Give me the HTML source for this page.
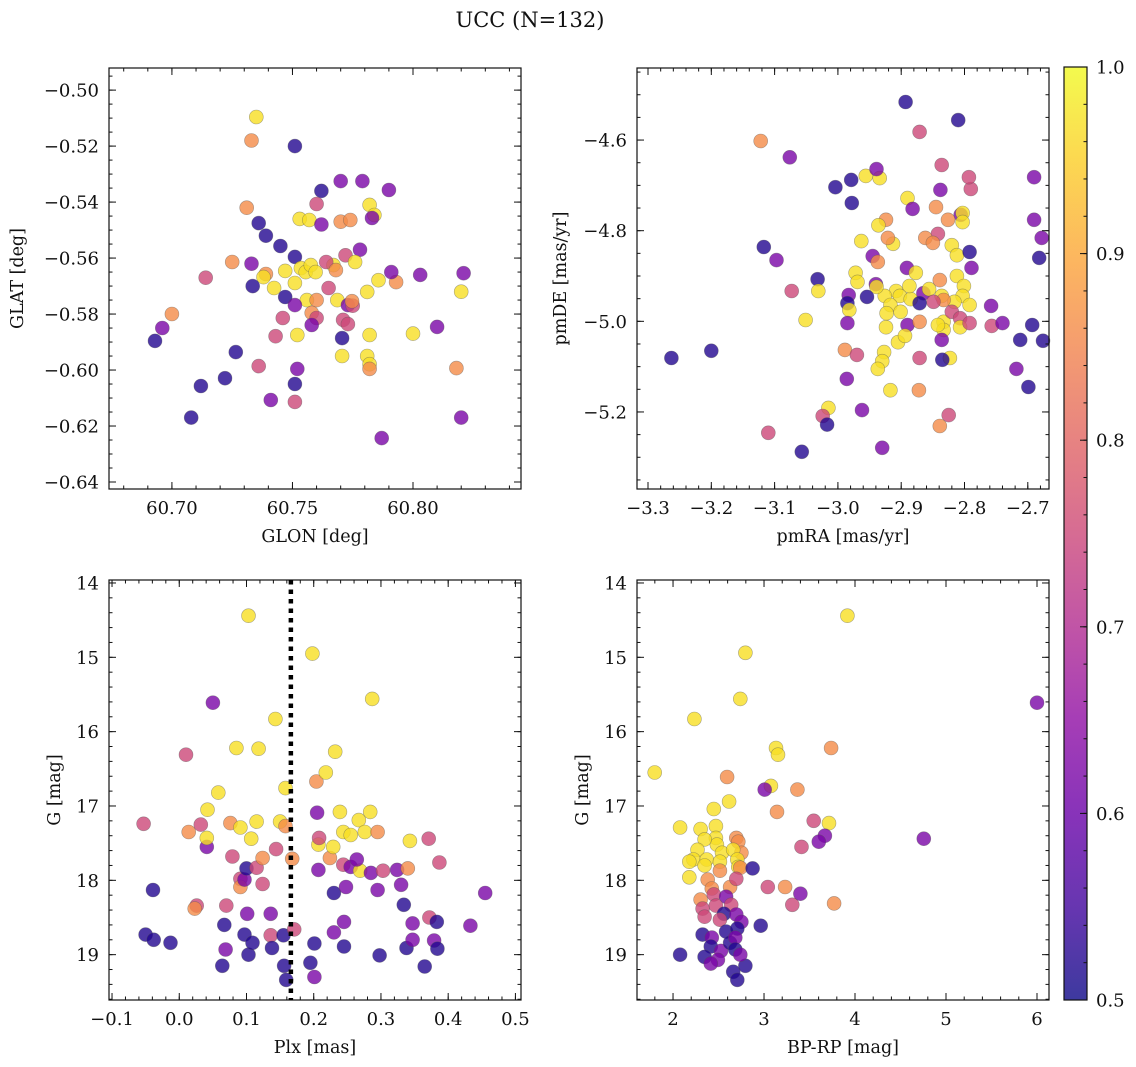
<!DOCTYPE html>
<html><head><meta charset="utf-8">
<style>
html,body{margin:0;padding:0;background:#fff;}
svg{display:block;font-family:"DejaVu Serif","Liberation Serif",serif;}
</style></head>
<body>
<svg id="fig" width="1136" height="1067" viewBox="0 0 1136 1067" xmlns="http://www.w3.org/2000/svg">
<text x="530" y="27" text-anchor="middle" font-size="21" fill="#111">UCC (N=132)</text>
<defs>
<linearGradient id="cbgrad" x1="0" y1="1" x2="0" y2="0">
<stop offset="0" stop-color="#0d0887"/><stop offset="0.1" stop-color="#41049d"/><stop offset="0.2" stop-color="#6a00a8"/><stop offset="0.3" stop-color="#8f0da4"/><stop offset="0.4" stop-color="#b12a90"/><stop offset="0.5" stop-color="#cc4778"/><stop offset="0.6" stop-color="#e16462"/><stop offset="0.7" stop-color="#f2844b"/><stop offset="0.8" stop-color="#fca636"/><stop offset="0.9" stop-color="#fcce25"/><stop offset="1" stop-color="#f0f921"/>
</linearGradient>
</defs>
</svg>
<script>
// ---- Panel 1: GLON / GLAT ----
const glon=[60.735,60.733,60.751,60.762,60.770,60.779,60.790,60.760,60.782,60.731,60.736,60.753,60.757,60.762,60.770,60.774,60.784,60.783,60.739,60.745,60.751,60.725,60.733,60.747,60.7535,60.7555,60.7576,60.7596,60.767,60.764,60.768,60.772,60.778,60.776,60.739,60.738,60.7335,60.7424,60.747,60.751,60.756,60.760,60.765,60.7686,60.773,60.781,60.7857,60.793,60.791,60.803,60.821,60.820,60.714,60.700,60.696,60.693,60.751,60.746,60.758,60.760,60.758,60.771,60.775,60.773,60.7747,60.743,60.752,60.7706,60.782,60.800,60.810,60.7265,60.736,60.7706,60.781,60.782,60.782,60.712,60.722,60.741,60.751,60.751,60.752,60.708,60.818,60.820,60.787];
const glat=[-0.5096,-0.518,-0.520,-0.536,-0.5325,-0.5325,-0.5357,-0.5407,-0.541,-0.542,-0.5475,-0.546,-0.5464,-0.548,-0.547,-0.5464,-0.5446,-0.5457,-0.552,-0.5557,-0.5596,-0.5614,-0.562,-0.5646,-0.5636,-0.565,-0.5625,-0.565,-0.5625,-0.5614,-0.5643,-0.559,-0.557,-0.5614,-0.5657,-0.5668,-0.570,-0.5707,-0.5739,-0.5689,-0.575,-0.575,-0.5707,-0.575,-0.5768,-0.5721,-0.5679,-0.5686,-0.565,-0.566,-0.5654,-0.572,-0.567,-0.580,-0.585,-0.5896,-0.5768,-0.5814,-0.5796,-0.5814,-0.5839,-0.5821,-0.577,-0.5836,-0.5754,-0.5879,-0.5875,-0.5886,-0.5875,-0.587,-0.5846,-0.5936,-0.5986,-0.595,-0.595,-0.5979,-0.5996,-0.6057,-0.6029,-0.6107,-0.6114,-0.605,-0.5996,-0.617,-0.5993,-0.617,-0.6243];
const prob1=[0.97,0.86,0.52,0.52,0.62,0.62,0.62,0.75,0.97,0.86,0.52,0.97,0.97,0.62,0.86,0.86,0.97,0.62,0.52,0.52,0.52,0.86,0.62,0.97,0.97,0.97,0.97,0.97,0.97,0.75,0.86,0.75,0.62,0.97,0.86,0.97,0.52,0.97,0.52,0.97,0.97,0.86,0.75,0.97,0.62,0.97,0.97,0.86,0.62,0.62,0.62,0.97,0.75,0.86,0.62,0.52,0.62,0.75,0.86,0.75,0.62,0.75,0.75,0.75,0.86,0.75,0.97,0.52,0.97,0.97,0.62,0.52,0.75,0.97,0.97,0.97,0.86,0.52,0.52,0.62,0.75,0.52,0.62,0.52,0.86,0.62,0.62];

// ---- Panel 2: pmRA / pmDE ----
const pmra=[-2.893,-2.871,-2.810,-3.122,-3.076,-3.004,-2.979,-2.934,-2.956,-2.939,-2.836,-2.978,-2.890,-2.838,-2.790,-2.793,-2.690,-2.690,-2.806,-2.845,-2.882,-2.826,-2.803,-2.842,-2.803,-2.862,-2.850,-2.820,-2.812,-2.924,-2.936,-2.913,-2.963,-2.921,-2.945,-2.937,-2.891,-2.877,-2.812,-2.801,-2.836,-2.803,-2.816,-2.792,-2.833,-2.758,-2.678,-2.682,-2.792,-2.789,-3.097,-3.117,-3.032,-3.073,-3.031,-2.972,-2.969,-2.940,-2.908,-2.902,-2.885,-2.887,-2.865,-2.856,-2.849,-2.926,-2.939,-2.954,-2.983,-2.985,-2.982,-2.917,-2.901,-2.890,-2.871,-2.871,-2.839,-2.833,-2.833,-2.820,-2.807,-2.807,-2.842,-2.836,-2.792,-3.051,-2.985,-2.923,-2.924,-2.905,-2.894,-2.927,-2.757,-2.693,-2.676,-2.712,-2.740,-2.871,-2.823,-2.930,-2.937,-2.989,-2.970,-2.986,-3.015,-3.024,-3.110,-2.962,-2.917,-2.872,-2.835,-2.699,-2.825,-2.839,-2.930,-3.057,-3.263,-3.200,-2.718,-3.017];
const pmde=[-4.516,-4.582,-4.556,-4.602,-4.638,-4.704,-4.688,-4.684,-4.679,-4.664,-4.655,-4.739,-4.728,-4.710,-4.708,-4.682,-4.682,-4.776,-4.765,-4.748,-4.752,-4.776,-4.761,-4.807,-4.781,-4.816,-4.827,-4.832,-4.854,-4.776,-4.788,-4.829,-4.823,-4.816,-4.856,-4.869,-4.882,-4.893,-4.900,-4.922,-4.944,-4.944,-4.957,-4.964,-4.953,-4.966,-4.816,-4.860,-4.847,-4.882,-4.865,-4.836,-4.907,-4.933,-4.933,-4.893,-4.913,-4.918,-4.933,-4.944,-4.951,-4.922,-4.938,-4.929,-4.957,-4.944,-4.924,-4.946,-4.942,-4.960,-4.975,-4.964,-4.979,-5.008,-5.001,-4.960,-4.909,-5.001,-5.019,-4.979,-4.993,-5.013,-5.008,-5.041,-5.004,-4.997,-5.004,-4.982,-5.013,-5.046,-5.032,-5.068,-5.010,-5.008,-5.043,-5.041,-5.004,-5.081,-5.081,-5.088,-5.105,-5.063,-5.074,-5.127,-5.191,-5.209,-5.246,-5.196,-5.152,-5.152,-5.085,-5.145,-5.207,-5.231,-5.279,-5.288,-5.081,-5.065,-5.105,-5.228];
const prob2=[0.52,0.75,0.52,0.86,0.62,0.52,0.52,0.97,0.97,0.62,0.75,0.52,0.97,0.62,0.75,0.75,0.62,0.62,0.62,0.86,0.62,0.86,0.97,0.75,0.97,0.86,0.86,0.97,0.97,0.86,0.97,0.97,0.97,0.86,0.62,0.86,0.62,0.97,0.97,0.97,0.97,0.97,0.97,0.97,0.86,0.62,0.62,0.52,0.52,0.62,0.62,0.52,0.52,0.75,0.97,0.97,0.97,0.62,0.97,0.97,0.97,0.97,0.62,0.97,0.75,0.97,0.97,0.52,0.62,0.52,0.97,0.97,0.97,0.62,0.86,0.52,0.86,0.97,0.97,0.75,0.75,0.97,0.97,0.62,0.75,0.97,0.62,0.97,0.97,0.97,0.97,0.97,0.75,0.52,0.52,0.52,0.62,0.75,0.97,0.97,0.97,0.86,0.75,0.62,0.97,0.75,0.75,0.62,0.97,0.86,0.52,0.52,0.75,0.86,0.62,0.52,0.52,0.52,0.62,0.52];

// ---- Panel 3: Plx / G ----
const plx=[-0.053,-0.039,-0.050,-0.038,-0.013,0.010,0.014,0.026,0.023,0.032,0.041,0.041,0.050,0.058,0.042,0.064,0.069,0.067,0.070,0.076,0.085,0.079,0.091,0.091,0.091,0.097,0.101,0.097,0.100,0.103,0.109,0.103,0.107,0.115,0.118,0.115,0.124,0.124,0.136,0.136,0.138,0.143,0.144,0.150,0.158,0.158,0.155,0.159,0.156,0.168,0.171,0.198,0.205,0.204,0.207,0.207,0.208,0.195,0.201,0.201,0.218,0.224,0.229,0.230,0.230,0.245,0.232,0.239,0.244,0.244,0.255,0.248,0.255,0.245,0.267,0.269,0.264,0.285,0.276,0.284,0.287,0.295,0.295,0.298,0.303,0.324,0.330,0.334,0.340,0.343,0.338,0.347,0.347,0.371,0.372,0.383,0.379,0.384,0.387,0.433,0.455,0.365];
const gmag3=[17.24,18.13,18.73,18.80,18.84,16.31,17.35,18.34,18.38,17.25,17.55,17.43,15.61,16.82,17.05,19.15,18.93,18.60,18.34,17.23,16.22,17.68,17.29,17.98,18.09,18.73,18.45,17.99,17.84,19.00,18.84,14.44,17.44,17.21,16.23,17.83,17.70,18.05,18.74,18.45,18.91,15.83,17.58,17.21,17.27,16.76,18.74,19.34,19.15,17.71,18.66,14.95,17.09,16.67,17.52,17.86,17.43,19.11,18.85,19.30,16.55,17.70,17.55,18.17,18.70,18.89,16.27,17.08,17.35,17.79,17.82,18.09,17.39,18.56,17.19,17.87,17.72,17.90,17.35,17.08,15.56,17.35,18.13,19.01,17.87,17.86,18.06,18.33,17.84,17.47,18.91,18.80,18.58,17.44,18.50,18.56,18.81,18.92,17.76,18.61,18.17,19.16];
const prob3=[0.75,0.52,0.52,0.52,0.52,0.75,0.86,0.75,0.86,0.75,0.62,0.97,0.62,0.97,0.97,0.52,0.62,0.52,0.75,0.86,0.97,0.75,0.97,0.75,0.86,0.52,0.62,0.62,0.52,0.52,0.52,0.97,0.97,0.97,0.97,0.75,0.86,0.75,0.75,0.62,0.52,0.97,0.75,0.97,0.86,0.97,0.52,0.52,0.52,0.86,0.75,0.97,0.62,0.86,0.97,0.62,0.75,0.52,0.52,0.62,0.97,0.86,0.97,0.52,0.62,0.52,0.97,0.97,0.97,0.75,0.62,0.62,0.97,0.62,0.97,0.97,0.62,0.62,0.97,0.97,0.97,0.86,0.62,0.52,0.75,0.62,0.62,0.52,0.86,0.97,0.52,0.62,0.62,0.75,0.75,0.52,0.62,0.52,0.75,0.62,0.62,0.52];

// ---- Panel 4: BP-RP / G ----
const bprp=[3.916,2.795,2.739,2.235,3.132,3.154,3.737,6.000,1.798,2.594,3.076,3.008,3.367,3.143,3.546,3.714,3.669,3.412,3.602,4.756,2.616,2.448,2.471,2.471,2.482,2.538,2.303,2.078,2.347,2.269,2.224,2.370,2.515,2.695,2.717,2.751,2.661,2.706,2.717,2.179,2.347,2.739,2.515,2.381,2.179,2.426,2.627,2.695,2.874,3.042,3.232,3.311,3.400,3.770,2.303,2.325,2.448,2.583,2.639,2.471,2.560,2.347,2.515,2.695,2.751,2.325,2.426,2.583,2.706,2.415,2.527,2.627,2.684,2.493,2.684,2.661,2.795,2.706,2.964,2.739,2.078,2.347,2.415];
const gmag4=[14.44,14.94,15.56,15.83,16.22,16.31,16.22,15.61,16.55,16.61,16.73,16.78,16.78,17.08,17.20,17.23,17.40,17.55,17.48,17.44,16.94,17.04,17.27,17.43,17.52,17.63,17.31,17.29,17.45,17.59,17.72,17.72,17.75,17.43,17.48,17.63,17.59,17.72,17.82,17.75,17.80,17.83,17.87,17.99,17.96,18.11,18.09,17.98,17.84,18.09,18.09,18.33,18.18,18.31,18.26,18.38,18.19,18.22,18.33,18.34,18.45,18.49,18.53,18.46,18.56,18.73,18.77,18.69,18.65,18.89,18.95,18.84,18.77,19.07,18.93,19.23,19.15,19.34,18.61,19.00,19.00,19.03,19.12];
const prob4=[0.97,0.97,0.97,0.97,0.97,0.97,0.86,0.62,0.97,0.86,0.97,0.62,0.86,0.86,0.75,0.97,0.62,0.75,0.62,0.62,0.97,0.97,0.97,0.97,0.97,0.97,0.97,0.97,0.97,0.97,0.97,0.97,0.97,0.86,0.86,0.86,0.97,0.97,0.97,0.97,0.97,0.86,0.86,0.86,0.97,0.86,0.86,0.75,0.52,0.75,0.86,0.75,0.62,0.86,0.86,0.75,0.75,0.62,0.75,0.75,0.52,0.75,0.75,0.62,0.62,0.52,0.62,0.52,0.52,0.52,0.62,0.52,0.62,0.62,0.52,0.52,0.52,0.52,0.52,0.62,0.52,0.52,0.62];

const cbTicks=[0.5,0.6,0.7,0.8,0.9,1.0];
const plxCut=[0.166];

const NS='http://www.w3.org/2000/svg';
const fig=document.getElementById('fig');
function mk(tag,attrs,parent){const e=document.createElementNS(NS,tag);for(const k in attrs)e.setAttribute(k,attrs[k]);(parent||fig).appendChild(e);return e;}

const stops=[[13,8,135],[65,4,157],[106,0,168],[143,13,164],[177,42,144],[204,71,120],[225,100,98],[242,132,75],[252,166,54],[252,206,37],[240,249,33]];
function plasma(v){let t=(v-0.5)/0.5;t=Math.max(0,Math.min(1,t));const s=t*10;const i=Math.min(9,Math.floor(s));const f=s-i;const a=stops[i],b=stops[i+1];return 'rgb('+a.map((c,k)=>Math.round(c+(b[k]-c)*f)).join(',')+')';}

function fmt(v,d){const s=Math.abs(v).toFixed(d);return (v<-1e-9?'\u2212':'')+s;}

function steps(a0,b0,st){const a=Math.min(a0,b0),b=Math.max(a0,b0);const eps=1e-9;const out=[];let s=Math.ceil((a-eps)/st);for(let v=s*st;v<=b+eps;v=(++s)*st)out.push(Math.round(v/st)*st);return out;}

function panel(cfg){
  const g=mk('g',{});
  
  
  const X=v=>cfg.L+(v-cfg.x0)/(cfg.x1-cfg.x0)*(cfg.R-cfg.L);
  const Y=v=>cfg.B-(v-cfg.y0)/(cfg.y1-cfg.y0)*(cfg.B-cfg.T);
  cfg.X=X;cfg.Y=Y;
  const pg=mk('g',{},g);
  
  
  for(let i=0;i<cfg.xs.length;i++){
    const c=mk('circle',{cx:X(cfg.xs[i]).toFixed(1),cy:Y(cfg.ys[i]).toFixed(1),r:7,fill:plasma(cfg.ps[i]),'fill-opacity':0.8,stroke:'#555','stroke-opacity':0.5,'stroke-width':0.6},pg);
    
    
  }
  const fr=mk('rect',{x:cfg.L,y:cfg.T,width:cfg.R-cfg.L,height:cfg.B-cfg.T,fill:'none',stroke:'#111','stroke-width':1.2},g);
  
  
  const tk=mk('g',{stroke:'#111','stroke-width':1},g);
  
  
  steps(cfg.x0,cfg.x1,cfg.xmin).forEach(v=>{const x=X(v);mk('line',{x1:x,x2:x,y1:cfg.B,y2:cfg.B-3.5},tk);mk('line',{x1:x,x2:x,y1:cfg.T,y2:cfg.T+3.5},tk);});
  steps(cfg.y0,cfg.y1,cfg.ymin).forEach(v=>{const y=Y(v);mk('line',{x1:cfg.L,x2:cfg.L+3.5,y1:y,y2:y},tk);mk('line',{x1:cfg.R,x2:cfg.R-3.5,y1:y,y2:y},tk);});
  steps(cfg.x0,cfg.x1,cfg.xmaj).forEach(v=>{const x=X(v);mk('line',{x1:x,x2:x,y1:cfg.B,y2:cfg.B-7},tk);mk('line',{x1:x,x2:x,y1:cfg.T,y2:cfg.T+7},tk);
    const t=mk('text',{x:x,y:cfg.B+25,'text-anchor':'middle','font-size':18,fill:'#111',stroke:'none'},g);t.textContent=fmt(v,cfg.xd);
    });
  steps(cfg.y0,cfg.y1,cfg.ymaj).forEach(v=>{const y=Y(v);mk('line',{x1:cfg.L,x2:cfg.L+7,y1:y,y2:y},tk);mk('line',{x1:cfg.R,x2:cfg.R-7,y1:y,y2:y},tk);
    const t=mk('text',{x:cfg.L-10,y:y+6.5,'text-anchor':'end','font-size':18,fill:'#111',stroke:'none'},g);t.textContent=fmt(v,cfg.yd);
    });
  const xl=mk('text',{x:(cfg.L+cfg.R)/2,y:cfg.B+53,'text-anchor':'middle','font-size':17.5,fill:'#111'},g);xl.textContent=cfg.xlabel;
  
  const yx=cfg.ylx,yy=(cfg.T+cfg.B)/2;
  const yl=mk('text',{x:yx,y:yy,'text-anchor':'middle','font-size':17.5,fill:'#111',transform:'rotate(-90 '+yx+' '+yy+')'},g);yl.textContent=cfg.ylabel;
  
  return cfg;
}

panel({name:'glon-glat-panel',L:109,R:521,T:68,B:489,x0:60.6739,x1:60.8448,y0:-0.6425,y1:-0.4921,xmaj:0.05,xmin:0.01,ymaj:0.02,ymin:0.005,xd:2,yd:2,xs:glon,ys:glat,ps:prob1,xlabel:'GLON [deg]',ylabel:'GLAT [deg]',ylx:23});
panel({name:'pm-panel',L:637,R:1049,T:68,B:489,x0:-3.3174,x1:-2.6665,y0:-5.370,y1:-4.441,xmaj:0.1,xmin:0.02,ymaj:0.2,ymin:0.05,xd:1,yd:1,xs:pmra,ys:pmde,ps:prob2,xlabel:'pmRA [mas/yr]',ylabel:'pmDE [mas/yr]',ylx:566});
const p3=panel({name:'plx-g-panel',L:109,R:521,T:580,B:1000,x0:-0.1045,x1:0.5083,y0:19.61,y1:13.96,xmaj:0.1,xmin:0.02,ymaj:1,ymin:0.2,xd:1,yd:0,xs:plx,ys:gmag3,ps:prob3,xlabel:'Plx [mas]',ylabel:'G [mag]',ylx:60});
panel({name:'color-g-panel',L:637,R:1049,T:580,B:1000,x0:1.604,x1:6.132,y0:19.61,y1:13.96,xmaj:1,xmin:0.2,ymaj:1,ymin:0.2,xd:0,yd:0,xs:bprp,ys:gmag4,ps:prob4,xlabel:'BP-RP [mag]',ylabel:'G [mag]',ylx:588});

plxCut.forEach(v=>{const x=p3.X(v);const ln=mk('line',{x1:x,x2:x,y1:p3.T,y2:p3.B,stroke:'#000','stroke-width':4.5,'stroke-dasharray':'4.5 5'});

});

const cb={L:1064,R:1087,T:67,B:1000,v0:0.5,v1:1.0};
const cbr=mk('rect',{x:cb.L,y:cb.T,width:cb.R-cb.L,height:cb.B-cb.T,fill:'url(#cbgrad)','fill-opacity':0.8,stroke:'#111','stroke-width':1.2});


const CY=v=>cb.B-(v-cb.v0)/(cb.v1-cb.v0)*(cb.B-cb.T);
for(let k=0;k<=25;k++){const v=cb.v0+k*0.02;const y=CY(v);mk('line',{x1:cb.R,x2:cb.R-3.5,y1:y,y2:y,stroke:'#111','stroke-width':1});}
cbTicks.forEach(v=>{const y=CY(v);mk('line',{x1:cb.R,x2:cb.R-7,y1:y,y2:y,stroke:'#111','stroke-width':1});
const t=mk('text',{x:cb.R+9,y:y+6.5,'font-size':18,fill:'#111'});t.textContent=v.toFixed(1);

});
</script>
</body></html>
